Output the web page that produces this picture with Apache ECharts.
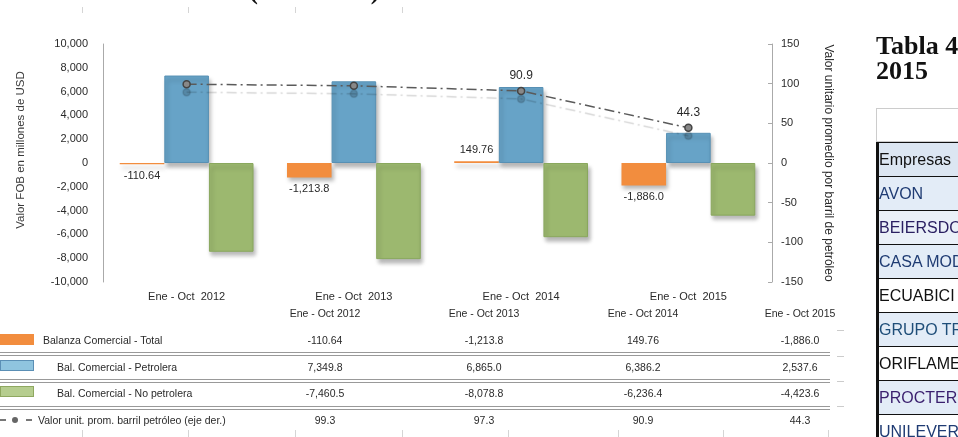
<!DOCTYPE html>
<html>
<head>
<meta charset="utf-8">
<script src="https://cdn.jsdelivr.net/npm/echarts@6/dist/echarts.min.js"></script>
<style>
  body { margin: 0; background: #fff; font-family: "Liberation Sans", Arial, sans-serif; }
  #page { position: relative; width: 958px; height: 437px; overflow: hidden; background: #fff; }
  #main { position: absolute; left: 0; top: 0; width: 958px; height: 437px; }
  .t { position: absolute; white-space: nowrap; color: #2a2a2a; font-size: 10.5px; line-height: 14px; transform: translateY(-50%); }
  .c { transform: translate(-50%, -50%); }
  .serif { position: absolute; white-space: nowrap; font-family: "Liberation Serif", "Times New Roman", serif; font-weight: bold; font-size: 26px; line-height: 26px; color: #111; }
  .dline { position: absolute; left: 0; width: 830px; height: 2px; border-top: 1px solid #999; border-bottom: 1px solid #999; }
  .tick { position: absolute; width: 1px; background: #d5d5d5; }
  .sw { position: absolute; left: 0; width: 34px; box-sizing: border-box; }
  #tbl { position: absolute; left: 876px; top: 108px; width: 120px; }
  .row { position: absolute; left: 0; width: 120px; box-sizing: border-box; border-top: 1.5px solid #111;
         font-size: 16px; padding-left: 3px; display: flex; align-items: center; white-space: nowrap; }
</style>
</head>
<body>
<div id="page">
  <div id="main"></div>
  <div class="serif" style="left:148px; top:-22px;">Ecuador (2012-2015)</div>
  <div class="serif" style="left:876px; top:33px;">Tabla 4</div>
  <div class="serif" style="left:876px; top:58px;">2015</div>
  <div id="tbl"></div>
  <div id="dtable"></div>
</div>
<script>
// datos del grafico (millones de USD y USD por barril)
const categories = ['Ene - Oct  2012', 'Ene - Oct  2013', 'Ene - Oct  2014', 'Ene - Oct  2015'];
const balanzaTotal = [-110.64, -1213.8, 149.76, -1886.0];
const balPetrolera = [7349.8, 6865.0, 6386.2, 2537.6];
const balNoPetrolera = [-7460.5, -8078.8, -6236.4, -4423.6];
const valorBarril = [99.3, 97.3, 90.9, 44.3];
const barrilConEtiqueta = [false, false, true, true];

const seriesNames = ['Balanza Comercial - Total', 'Bal. Comercial - Petrolera',
  'Bal. Comercial - No petrolera', 'Valor unit. prom. barril petróleo (eje der.)'];

// tabla de empresas (recortada a la derecha)
const empresas = ['Empresas', 'AVON', 'BEIERSDORF', 'CASA MODA', 'ECUABICI', 'GRUPO TRANS', 'ORIFLAME', 'PROCTER', 'UNILEVER'];

const fmt = v => v.toLocaleString('en-US', { minimumFractionDigits: 1, maximumFractionDigits: 2 });

const colors = { total: '#f28d3e', petro: '#67a3c7', noPetro: '#9cb86f', linea: '#5a5a5a' };
const barShadow = { shadowColor: 'rgba(0,0,0,0.28)', shadowBlur: 4, shadowOffsetX: 2, shadowOffsetY: 4 };

let myChart = echarts.init(document.getElementById('main'));

let option = {
  animation: false,
  textStyle: { fontFamily: 'Liberation Sans' },
  grid: { left: 103, right: 186, top: 44, bottom: 155 },
  xAxis: {
    type: 'category',
    data: categories,
    axisLine: { show: false },
    axisTick: { show: false },
    axisLabel: { margin: 9, fontSize: 11, color: '#2a2a2a' }
  },
  yAxis: [
    {
      type: 'value', min: -10000, max: 10000, interval: 2000,
      splitLine: { show: false },
      axisLine: { show: true, lineStyle: { color: '#aaa' } },
      axisTick: { show: false },
      axisLabel: { fontSize: 11, color: '#2a2a2a', margin: 15, formatter: v => v.toLocaleString('en-US') }
    },
    {
      type: 'value', min: -150, max: 150, interval: 50, position: 'right',
      splitLine: { show: false },
      axisLine: { show: true, lineStyle: { color: '#aaa' } },
      axisTick: { show: true, inside: true, length: 4, lineStyle: { color: '#aaa' } },
      axisLabel: { fontSize: 11, color: '#2a2a2a', margin: 9 },
      name: 'Valor unitario promedio por barril de petróleo',
      nameLocation: 'middle', nameRotate: -90, nameGap: 50,
      nameTextStyle: { fontSize: 12, color: '#2a2a2a' }
    }
  ],
  graphic: [{
    type: 'text', x: 21, y: 150, rotation: Math.PI / 2,
    style: { text: 'Valor FOB en millones de USD', fontSize: 11.5, fill: '#3a3a3a', align: 'center', verticalAlign: 'middle' }
  }],
  series: [
    {
      name: seriesNames[0], type: 'bar', barGap: '0%', barCategoryGap: '20%',
      itemStyle: Object.assign({ color: colors.total }, barShadow),
      data: balanzaTotal.map(v => ({
        value: v,
        label: { show: true, position: v < 0 ? 'bottom' : 'top', distance: 6,
                 formatter: () => fmt(v), fontSize: 11, color: '#2a2a2a' }
      }))
    },
    {
      name: seriesNames[1], type: 'bar',
      itemStyle: Object.assign({ color: colors.petro, borderColor: '#5790b4', borderWidth: 1 }, barShadow),
      data: balPetrolera
    },
    {
      name: seriesNames[2], type: 'bar',
      itemStyle: Object.assign({ color: colors.noPetro, borderColor: '#8aa85e', borderWidth: 1 }, barShadow),
      data: balNoPetrolera
    },
    {
      name: seriesNames[3], type: 'line', yAxisIndex: 1, z: 5,
      symbol: 'circle', symbolSize: 7,
      lineStyle: { color: colors.linea, width: 1.5, type: [10, 4, 2, 4],
                   shadowColor: 'rgba(0,0,0,0.16)', shadowOffsetY: 8, shadowBlur: 1 },
      itemStyle: { color: '#888', borderColor: '#444', borderWidth: 1.5,
                   shadowColor: 'rgba(0,0,0,0.16)', shadowOffsetY: 8, shadowBlur: 1 },
      data: valorBarril.map((v, i) => ({
        value: v,
        label: { show: barrilConEtiqueta[i], position: 'top', distance: 5, fontSize: 12, color: '#2a2a2a' }
      }))
    }
  ]
};
myChart.setOption(option);

// tabla de datos bajo el grafico
const colX = [325, 484, 643, 800];
const rowY = [340, 367, 393, 420];
const rowsData = [balanzaTotal, balPetrolera, balNoPetrolera, valorBarril];
const labelX = [43, 57, 57, 38];
let html = '';
colX.forEach((x, i) => {
  html += `<div class="t c" style="left:${x}px;top:313px;">${categories[i]}</div>`;
});
rowsData.forEach((arr, r) => {
  html += `<div class="t" style="left:${labelX[r]}px;top:${rowY[r]}px;">${seriesNames[r]}</div>`;
  arr.forEach((v, i) => {
    html += `<div class="t c" style="left:${colX[i]}px;top:${rowY[r]}px;">${fmt(v)}</div>`;
  });
});
[352, 379, 406].forEach(y => { html += `<div class="dline" style="top:${y}px;"></div>`; });
html += `<div class="sw" style="top:334px;height:11px;background:${colors.total};"></div>`;
html += `<div class="sw" style="top:360px;height:11px;background:#8fc4df;border:1px solid #5b8fb5;"></div>`;
html += `<div class="sw" style="top:386px;height:11px;background:#b6cd8f;border:1px solid #8fa860;"></div>`;
html += `<div style="position:absolute;left:0;top:419px;width:6px;height:1.5px;background:#777;"></div>`;
html += `<div style="position:absolute;left:12px;top:417px;width:6px;height:6px;border-radius:50%;background:#666;"></div>`;
html += `<div style="position:absolute;left:26px;top:419px;width:6px;height:1.5px;background:#777;"></div>`;
[82, 188, 295, 402, 508, 618, 723, 828].forEach(x => { html += `<div class="tick" style="left:${x}px;top:430px;height:7px;"></div>`; });
[82, 188, 295, 402].forEach(x => { html += `<div class="tick" style="left:${x}px;top:7px;height:6px;"></div>`; });
[330, 356, 381, 406].forEach(y => { html += `<div style="position:absolute;left:837px;top:${y}px;width:7px;height:1px;background:#ccc;"></div>`; });
document.getElementById('dtable').innerHTML = html;

// tabla de empresas a la derecha
const bgs = ['#dce6f2', '#e3ecf7', '#eaf0f8', '#e3ecf7', '#fff', '#e3ecf7', '#fff', '#e3ecf7', '#fff'];
const fgs = ['#111', '#1f3b73', '#2b2062', '#1f3b73', '#111', '#1f4e79', '#111', '#3a1f6e', '#1f3b73'];
let t = `<div style="position:absolute;left:0;top:0;width:120px;height:34px;border:1px solid #ccc;border-right:none;box-sizing:border-box;"></div>`;
empresas.forEach((e, i) => {
  t += `<div class="row" style="top:${34 + i * 34}px;height:34px;background:${bgs[i]};color:${fgs[i]};">${e}</div>`;
});
t += `<div style="position:absolute;left:0;top:34px;width:3px;height:320px;background:#111;"></div>`;
document.getElementById('tbl').innerHTML = t;
</script>
</body>
</html>
